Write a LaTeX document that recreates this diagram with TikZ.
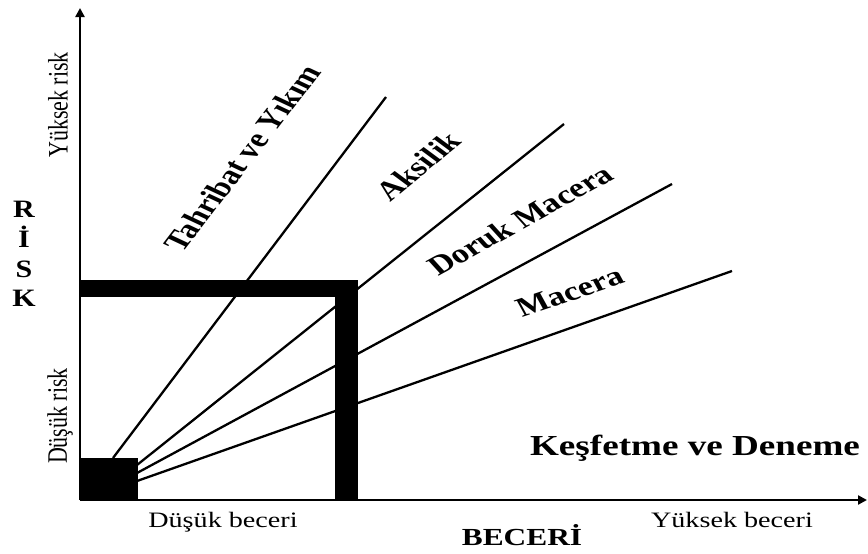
\documentclass[tikz,border=0pt]{standalone}
\usepackage{fontspec}
\usepackage{graphicx}
\setmainfont{Liberation Serif}
\usetikzlibrary{arrows.meta}
\tikzset{
  axisline/.style={line width=2.4pt,-{Triangle[length=9pt,width=9pt]}},
  zoneline/.style={line width=2.3pt},
  bar/.style={fill=black,draw=none},
  lbl/.style={inner sep=0pt,outer sep=0pt},
}
\newcommand{\fs}[1]{\fontsize{#1}{#1}\selectfont}
\newcommand{\st}[1]{\scalebox{1.28}[1]{#1}}
\begin{document}
\begin{tikzpicture}[x=1pt,y=-1pt]
\useasboundingbox[fill=white] (0,0) rectangle (868,554);
% axes
\coordinate (O) at (80,500);
\coordinate (Ytop) at (80,8);
\coordinate (Xend) at (867,500);
\draw[axisline] (O) -- (Ytop);
\draw[axisline] (O) -- (Xend);
% bars
\fill[bar] (81,280) rectangle (358,297);
\fill[bar] (335,280) rectangle (358,500);
\fill[bar] (81,458) rectangle (138,500);
% zone lines
\coordinate (s1) at (113,458);  \coordinate (e1) at (386,97);
\coordinate (s2) at (137,465);  \coordinate (e2) at (564,124);
\coordinate (s3) at (137,473);  \coordinate (e3) at (672,184);
\coordinate (s4) at (137,481);  \coordinate (e4) at (732,271);
\draw[zoneline] (s1) -- (e1);
\draw[zoneline] (s2) -- (e2);
\draw[zoneline] (s3) -- (e3);
\draw[zoneline] (s4) -- (e4);
% diagonal labels
\node[lbl] (tahribat) at (242,158) {\st{\rotatebox{59}{\fs{27}\bfseries Tahribat ve Yıkım}}};
\node[lbl] (aksilik) at (418,166) {\st{\rotatebox{46.5}{\fs{27}\bfseries Aksilik}}};
\node[lbl] (doruk) at (520,220) {\st{\rotatebox{35.4}{\fs{27}\bfseries Doruk Macera}}};
\node[lbl] (macera) at (570,292) {\st{\rotatebox{23.2}{\fs{27}\bfseries Macera}}};
% axis side labels
\node[lbl] (yrisk) at (58,105) {\st{\rotatebox{90}{\fs{22}Yüksek risk}}};
\node[lbl] (drisk) at (60,416) {\st{\rotatebox{90}{\fs{22}Düşük risk}}};
\node[lbl,anchor=base] (r1) at (24,217) {\scalebox{1.2}[1]{\fs{25}\bfseries R}};
\node[lbl,anchor=base] (r2) at (24,247) {\scalebox{1.2}[1]{\fs{25}\bfseries İ}};
\node[lbl,anchor=base] (r3) at (24,277) {\scalebox{1.2}[1]{\fs{25}\bfseries S}};
\node[lbl,anchor=base] (r4) at (24,306) {\scalebox{1.2}[1]{\fs{25}\bfseries K}};
% bottom labels
\node[lbl,anchor=base] (dbeceri) at (223,527) {\st{\fs{22}Düşük beceri}};
\node[lbl,anchor=base] (ybeceri) at (732,527) {\st{\fs{22}Yüksek beceri}};
\node[lbl,anchor=base] (beceri) at (522,545) {\st{\fs{24.5}\bfseries BECERİ}};
\node[lbl,anchor=base] (kesfet) at (695,455) {\st{\fs{29}\bfseries Keşfetme ve Deneme}};
\end{tikzpicture}
\end{document}
